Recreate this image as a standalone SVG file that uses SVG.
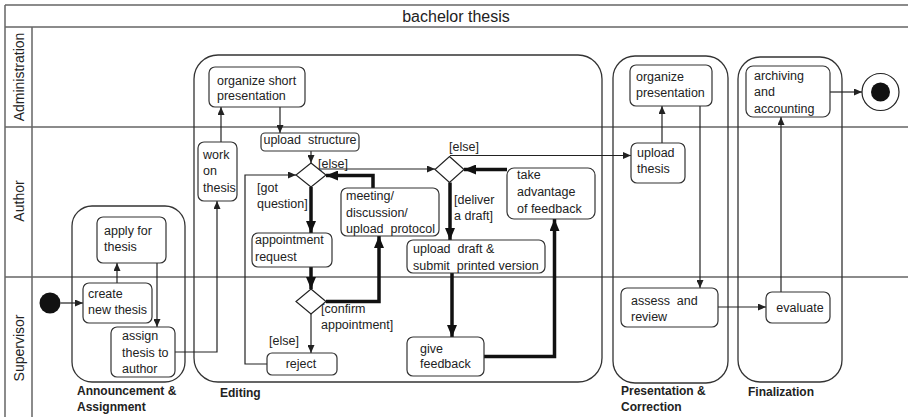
<svg xmlns="http://www.w3.org/2000/svg" width="908" height="417" viewBox="0 0 908 417">
<style>
text{font-family:"Liberation Sans",Arial,sans-serif;font-size:12.5px;fill:#222}
.lane{stroke:#666;stroke-width:1.5;fill:none}
.part{fill:none;stroke:#333;stroke-width:1.3}
.node rect{fill:#fff;stroke:#333;stroke-width:1.2}
.dia{fill:#fff;stroke:#222;stroke-width:1.2}
.thin{fill:none;stroke:#222;stroke-width:1.2;marker-end:url(#a)}
.thick{fill:none;stroke:#111;stroke-width:3.5;marker-end:url(#b)}
.lbl{font-weight:bold;font-size:12px}
.ln{font-size:14px;text-anchor:middle}
</style>
<defs>
<marker id="a" markerUnits="userSpaceOnUse" markerWidth="8" markerHeight="7" refX="8" refY="3.5" orient="auto"><path d="M0,0 L8,3.5 L0,7 z" fill="#222"/></marker>
<marker id="b" markerUnits="userSpaceOnUse" markerWidth="12" markerHeight="10" refX="12" refY="5" orient="auto"><path d="M0,0 L12,5 L0,10 z" fill="#111"/></marker>
</defs>
<rect width="908" height="417" fill="#fff"/>
<g id="frame">
<path class="lane" d="M5,5H908M5,27H908M5,127H908M5,277H908M5,5V417M32,27V417"/>
<text x="456" y="21.5" style="font-size:16px" text-anchor="middle">bachelor thesis</text>
<text class="ln" transform="translate(24,77) rotate(-90)">Administration</text>
<text class="ln" transform="translate(24,201) rotate(-90)">Author</text>
<text class="ln" transform="translate(24,348) rotate(-90)">Supervisor</text>
</g>
<g id="partitions">
<rect class="part" x="72" y="206" width="113" height="176" rx="20"/>
<rect class="part" x="194" y="55" width="408" height="327" rx="24"/>
<rect class="part" x="613" y="56" width="115" height="327" rx="22"/>
<rect class="part" x="738" y="57" width="104" height="325" rx="22"/>
<text class="lbl" x="77" y="395">Announcement &amp;</text>
<text class="lbl" x="77" y="411">Assignment</text>
<text class="lbl" x="220" y="396.5">Editing</text>
<text class="lbl" x="621" y="394.5">Presentation &amp;</text>
<text class="lbl" x="621" y="411">Correction</text>
<text class="lbl" x="748" y="395.5">Finalization</text>
</g>
<g id="connectors">
<path class="thin" d="M60.5,303H83"/>
<path class="thin" d="M117,283V263"/>
<path class="thin" d="M157,263V327"/>
<path class="thin" d="M175,352H217V201"/>
<path class="thin" d="M221,142V107"/>
<path class="thin" d="M280,107V133"/>
<path class="thin" d="M311,151V163"/>
<path class="thin" d="M320,169H435"/>
<path class="thin" d="M450,155.5H631"/>
<path class="thin" d="M311,314V353"/>
<path class="thin" d="M267,364H245V175H296"/>
<path class="thin" d="M662,143V106"/>
<path class="thin" d="M700,106V288"/>
<path class="thin" d="M718,307H766"/>
<path class="thin" d="M781,292V117"/>
<path class="thin" d="M830,92H862"/>
<path class="thick" d="M311,187V233"/>
<path class="thick" d="M311,267V289"/>
<path class="thick" d="M326,301.5H379V236"/>
<path class="thick" d="M373,188V175.5H326"/>
<path class="thick" d="M507,169.5H464"/>
<path class="thick" d="M450,182.5V240"/>
<path class="thick" d="M452,273V337"/>
<path class="thick" d="M484,356.5H554.5V219"/>
<text x="318" y="167.5">[else]</text>
<text x="257" y="191.5">[got</text>
<text x="257" y="208">question]</text>
<text x="321" y="312.5">[confirm</text>
<text x="321" y="329">appointment]</text>
<text x="269" y="345">[else]</text>
<text x="449" y="151">[else]</text>
<text x="454" y="203.5">[deliver</text>
<text x="454" y="220">a draft]</text>
</g>
<g id="start"><circle cx="50" cy="303" r="10.5" fill="#111"/></g>
<g id="end"><circle cx="880.5" cy="92" r="18.5" fill="#fff" stroke="#222" stroke-width="1.2"/><circle cx="880.5" cy="92" r="9.5" fill="#111"/></g>
<g id="apply" class="node"><rect x="97" y="217" width="69" height="46" rx="6"/><text x="104" y="234.5">apply for</text><text x="104" y="251">thesis</text></g>
<g id="create" class="node"><rect x="83" y="283" width="69" height="40" rx="6"/><text x="88" y="298">create</text><text x="88" y="314">new thesis</text></g>
<g id="assign" class="node"><rect x="111" y="327" width="64" height="50" rx="6"/><text x="122" y="340">assign</text><text x="122" y="357">thesis to</text><text x="122" y="373">author</text></g>
<g id="work" class="node"><rect x="198" y="142" width="39" height="59" rx="6"/><text x="203" y="158.5">work</text><text x="203" y="175">on</text><text x="203" y="192">thesis</text></g>
<g id="orgShort" class="node"><rect x="209" y="67" width="96" height="40" rx="6"/><text x="217" y="84.5">organize short</text><text x="217" y="100">presentation</text></g>
<g id="uploadStructure" class="node"><rect x="261" y="133" width="98" height="18" rx="4"/><text x="310" y="143.5" text-anchor="middle" xml:space="preserve">upload  structure</text></g>
<g id="d1"><path class="dia" d="M311,163L326,175L311,187L296,175z"/></g>
<g id="meeting" class="node"><rect x="341" y="188" width="98" height="48" rx="6"/><text x="346" y="200">meeting/</text><text x="346" y="216.5">discussion/</text><text x="346" y="233" xml:space="preserve">upload  protocol</text></g>
<g id="appointment" class="node"><rect x="252" y="233" width="80" height="34" rx="6"/><text x="255" y="244">appointment</text><text x="255" y="261">request</text></g>
<g id="d3"><path class="dia" d="M311,289L326,301.5L311,314L296,301.5z"/></g>
<g id="reject" class="node"><rect x="267" y="353" width="70" height="22" rx="5"/><text x="301" y="368" text-anchor="middle">reject</text></g>
<g id="d2"><path class="dia" d="M449.5,156.5L464,169.5L449.5,182.5L435,169.5z"/></g>
<g id="takeAdvantage" class="node"><rect x="507" y="168" width="88" height="51" rx="7"/><text x="517" y="178.5">take</text><text x="517" y="195.5">advantage</text><text x="517" y="212.5">of feedback</text></g>
<g id="uploadDraft" class="node"><rect x="407" y="240" width="138" height="33" rx="6"/><text x="413" y="252.5" xml:space="preserve">upload  draft &amp;</text><text x="413" y="269.5" xml:space="preserve">submit  printed version</text></g>
<g id="giveFeedback" class="node"><rect x="407" y="337" width="77" height="39" rx="6"/><text x="420" y="352.5">give</text><text x="420" y="367.5">feedback</text></g>
<g id="orgPres" class="node"><rect x="630" y="65" width="82" height="41" rx="6"/><text x="636" y="80.5">organize</text><text x="636" y="97">presentation</text></g>
<g id="uploadThesis" class="node"><rect x="631" y="143" width="54" height="40" rx="6"/><text x="637" y="157">upload</text><text x="637" y="172.5">thesis</text></g>
<g id="assess" class="node"><rect x="621" y="288" width="97" height="39" rx="6"/><text x="631" y="304.5" xml:space="preserve">assess  and</text><text x="631" y="321">review</text></g>
<g id="archiving" class="node"><rect x="746" y="66" width="84" height="51" rx="7"/><text x="754" y="79.5">archiving</text><text x="754" y="96">and</text><text x="754" y="112.5">accounting</text></g>
<g id="evaluate" class="node"><rect x="766" y="292" width="64" height="31" rx="6"/><text x="800" y="311.5" text-anchor="middle">evaluate</text></g>
</svg>
